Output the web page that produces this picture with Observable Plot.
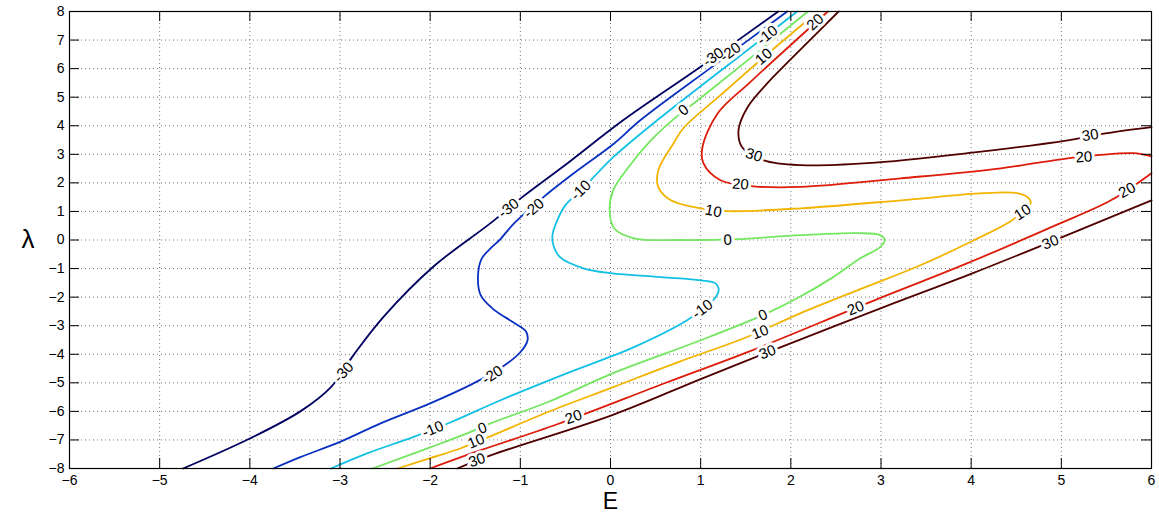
<!DOCTYPE html>
<html>
<head>
<meta charset="utf-8">
<script src="https://cdn.jsdelivr.net/npm/d3@7"></script>
<script src="https://cdn.jsdelivr.net/npm/@observablehq/plot@0.6"></script>
<style>
  html, body { margin: 0; padding: 0; background: #fff; }
  #chart svg { display: block; }
</style>
</head>
<body>
<div id="chart"></div>
<script>
// ---------- data ----------
const levels = [-30, -20, -10, 0, 10, 20, 30];
const xTicks = [-6, -5, -4, -3, -2, -1, 0, 1, 2, 3, 4, 5, 6];
const yTicks = [-8, -7, -6, -5, -4, -3, -2, -1, 0, 1, 2, 3, 4, 5, 6, 7, 8];

// contour lines as [E, λ] pairs
const contourM30 = [[-4.74,-8],[-4.0,-6.95],[-3.44,-6.0],[-3.1,-5.15],[-2.85,-4.03],[-2.52,-2.7],[-1.96,-0.92],[-1.33,0.59],[-1.0,1.45],[-0.48,2.68],[0.14,4.19],[0.98,6.02],[1.86,8]];
const contourM20 = [[-3.74,-8],[-3.44,-7.6],[-3.0,-7.07],[-2.55,-6.42],[-2.0,-5.72],[-1.52,-5.02],[-1.19,-4.42],[-1.0,-3.93],[-0.92,-3.51],[-0.94,-3.19],[-1.08,-2.88],[-1.3,-2.42],[-1.44,-1.93],[-1.47,-1.3],[-1.43,-0.66],[-1.32,-0.26],[-1.23,0],[-1.07,0.58],[-0.74,1.51],[-0.41,2.33],[0.04,3.38],[0.33,4.19],[1.16,6.14],[1.96,8]];
const contourM10 = [[-3.1,-8],[-2.7,-7.47],[-2.19,-6.9],[-1.77,-6.38],[-1.22,-5.61],[-0.48,-4.66],[0.26,-3.75],[0.85,-2.81],[1.02,-2.42],[1.14,-2.11],[1.2,-1.76],[1.16,-1.51],[1.0,-1.41],[0.56,-1.3],[0,-1.16],[-0.3,-0.99],[-0.56,-0.6],[-0.64,-0.11],[-0.64,0.24],[-0.59,0.69],[-0.5,1.22],[-0.33,1.74],[-0.22,2.09],[0.03,2.9],[0.52,4.2],[1.74,7.19],[2.07,8]];
const contour0 = [[-2.64,-8],[-2.0,-7.26],[-1.59,-6.77],[-1.33,-6.42],[-0.7,-5.68],[0.03,-4.66],[1.0,-3.51],[1.69,-2.63],[2.07,-2.04],[2.47,-1.3],[2.77,-0.64],[2.99,-0.25],[3.04,0],[2.99,0.17],[2.74,0.24],[2.11,0.17],[1.41,0.03],[1.0,0],[0.78,0],[0.26,0.06],[0.04,0.41],[-0.01,1.04],[0.03,1.74],[0.19,2.51],[0.44,3.46],[0.7,4.23],[1.0,4.97],[2.19,8]];
const contour10 = [[-2.36,-8],[-2.0,-7.64],[-1.66,-7.29],[-1.36,-6.91],[-0.7,-6.03],[0.03,-5.15],[0.78,-4.24],[1.48,-3.44],[2.11,-2.56],[2.77,-1.72],[3.41,-0.92],[4.03,-0.01],[4.47,0.73],[4.66,1.29],[4.64,1.46],[4.51,1.64],[4.14,1.64],[3.22,1.39],[2.11,1.11],[1.3,1.01],[1.0,1.11],[0.67,1.39],[0.53,1.85],[0.53,2.44],[0.7,3.39],[0.81,3.92],[1.22,5.07],[1.7,6.4],[2.3,8]];
const contour20a = [[-2.0,-8],[-1.44,-7.36],[-0.59,-6.45],[0.63,-4.98],[1.55,-3.89],[2.85,-2.21],[3.96,-0.81],[4.94,0.52],[5.55,1.39],[6.0,2.34]];
const contour20b = [[6.0,2.93],[5.8,3.04],[5.4,2.97],[5.07,2.86],[4.33,2.51],[3.22,2.16],[2.11,1.86],[1.59,1.88],[1.22,2.09],[1.03,2.69],[1.02,3.25],[1.19,4.44],[1.55,5.53],[2.41,8]];
const contour30a = [[-1.7,-8],[-1.33,-7.54],[0.02,-6.13],[1.0,-4.87],[1.89,-3.75],[3.03,-2.35],[4.02,-1.16],[5.01,0.1],[6.0,1.39]];
const contour30b = [[6.0,3.95],[5.51,3.74],[5.07,3.49],[3.96,3.04],[2.85,2.69],[2.11,2.62],[1.7,2.79],[1.46,3.25],[1.42,3.85],[1.52,4.65],[1.74,5.49],[2.0,6.33],[2.53,8]];

const branchLevel  = [-30, -20, -10, 0, 10, 20, 20, 30, 30];
const branchPoints = [contourM30, contourM20, contourM10, contour0, contour10, contour20a, contour20b, contour30a, contour30b];

// inline contour labels
const labelLevel = [-30,-30,-30, -20,-20,-20, -10,-10,-10,-10, 0,0,0,0, 10,10,10,10,10, 20,20,20,20,20,20, 30,30,30,30,30];
const labelE = [-2.96,-1.13,1.14, -1.31,-0.85,1.33, -1.97,1.02,-0.33,1.74, -1.42,1.69,1.3,0.81, -1.49,1.66,4.57,1.14,1.7, -0.41,2.72,5.73,5.25,1.44,2.27, -1.48,1.74,4.88,5.32,1.59];
const labelL = [-4.63,1.11,6.4, -4.73,1.11,6.58, -6.63,-2.42,1.74,7.17, -6.59,-2.63,0,4.55, -7.05,-3.23,0.97,1.01,6.42, -6.2,-2.39,1.74,2.9,1.95,7.63, -7.71,-3.93,-0.08,3.67,2.97];

// ---------- layout / style ----------
const W = 1159, H = 521;
const M = {top: 11, right: 8, bottom: 53, left: 69};
const innerW = W - M.left - M.right;
const innerH = H - M.top - M.bottom;
const kx = innerW / (xTicks[xTicks.length - 1] - xTicks[0]);
const ky = innerH / (yTicks[yTicks.length - 1] - yTicks[0]);
const jet = ["#000060", "#0a30c0", "#12c0e6", "#74e660", "#f2b400", "#de1c0a", "#500000"];
const FONT = "'Liberation Sans', Arial, Helvetica, sans-serif";
const TICK = 10;

const lineRows = branchPoints.flatMap((pts, b) =>
  pts.map(([E, L]) => ({E, L, level: branchLevel[b], branch: b})));

function angleAt(level, E, L) {
  let best = null, bd = Infinity;
  branchPoints.forEach((pts, b) => {
    if (branchLevel[b] !== level) return;
    pts.forEach((p, i) => {
      const d = ((p[0] - E) * kx) ** 2 + ((p[1] - L) * ky) ** 2;
      if (d < bd) { bd = d; best = {pts, i}; }
    });
  });
  const {pts, i} = best;
  const a = pts[Math.max(0, i - 1)], c = pts[Math.min(pts.length - 1, i + 1)];
  let ang = Math.atan2(-(c[1] - a[1]) * ky, (c[0] - a[0]) * kx) * 180 / Math.PI;
  if (ang > 90) ang -= 180;
  if (ang <= -90) ang += 180;
  return ang;
}

const labelRows = labelLevel.map((lev, i) => ({
  E: labelE[i], L: labelL[i], level: lev,
  text: lev < 0 ? "-" + Math.abs(lev) : String(lev),
  angle: angleAt(lev, labelE[i], labelL[i])
}));

const fmtTick = d => d < 0 ? "\u2212" + Math.abs(d) : String(d);

const axisMarks = (typeof Plot.axisX === "function") ? [
  Plot.axisX(xTicks, {tickSize: 0, tickPadding: 7, fontSize: 14, tickFormat: fmtTick, label: null}),
  Plot.axisY(yTicks, {tickSize: 0, tickPadding: 5, fontSize: 14, tickFormat: fmtTick, label: null})
] : [];

const chart = Plot.plot({
  width: W, height: H,
  marginTop: M.top, marginRight: M.right, marginBottom: M.bottom, marginLeft: M.left,
  style: {fontFamily: FONT, fontSize: "14px", color: "black", background: "white"},
  x: {domain: [xTicks[0], xTicks[xTicks.length - 1]], ticks: xTicks, tickSize: 0, tickPadding: 7, tickFormat: fmtTick, label: null},
  y: {domain: [yTicks[0], yTicks[yTicks.length - 1]], ticks: yTicks, tickSize: 0, tickPadding: 5, tickFormat: fmtTick, label: null},
  color: {type: "ordinal", domain: levels, range: jet},
  marks: [
    // dotted grid
    Plot.ruleX(xTicks.slice(1, -1), {x: d => d, stroke: "#555", strokeOpacity: 0.8, strokeDasharray: "1,3"}),
    Plot.ruleY(yTicks.slice(1, -1), {y: d => d, stroke: "#555", strokeOpacity: 0.8, strokeDasharray: "1,3"}),
    // contour lines
    Plot.line(lineRows, {x: "E", y: "L", z: "branch", stroke: "level", strokeWidth: 1.8, curve: "catmull-rom"}),
    // label halos and labels
    Plot.text(labelRows, {x: "E", y: "L", text: "text", rotate: "angle", fontSize: 15, fontFamily: FONT,
      fill: "white", stroke: "white", strokeWidth: 6, strokeLinejoin: "round"}),
    Plot.text(labelRows, {x: "E", y: "L", text: "text", rotate: "angle", fontSize: 15, fontFamily: FONT, fill: "black"}),
    // inward ticks on all four sides
    Plot.ruleX(xTicks, {x: d => d, insetTop: innerH - TICK, stroke: "black"}),
    Plot.ruleX(xTicks, {x: d => d, insetBottom: innerH - TICK, stroke: "black"}),
    Plot.ruleY(yTicks, {y: d => d, insetRight: innerW - TICK, stroke: "black"}),
    Plot.ruleY(yTicks, {y: d => d, insetLeft: innerW - TICK, stroke: "black"}),
    Plot.frame({stroke: "black", strokeWidth: 1.2}),
    ...axisMarks,
    // axis titles
    Plot.text(["E"], {text: d => d, frameAnchor: "bottom", dy: 40, fontSize: 23, fontFamily: FONT, fill: "black"}),
    Plot.text(["\u03bb"], {text: d => d, frameAnchor: "left", dx: -48, fontSize: 26, fontFamily: FONT, fill: "black"})
  ]
});
document.getElementById("chart").appendChild(chart);
</script>
</body>
</html>
